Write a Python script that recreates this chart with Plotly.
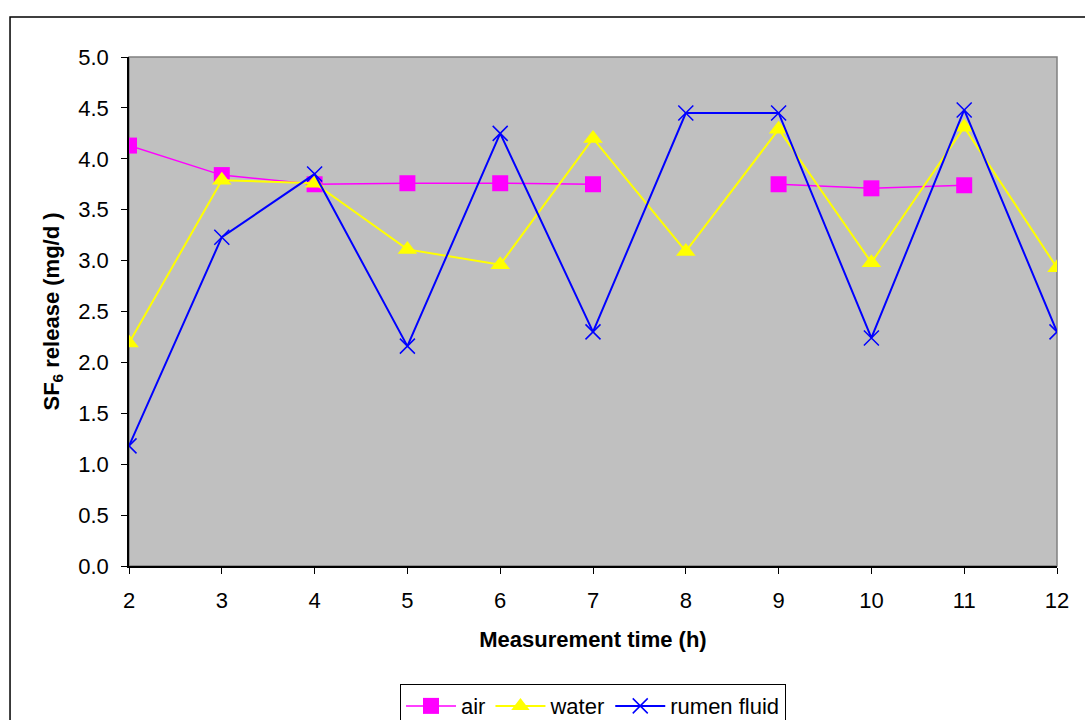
import plotly.graph_objects as go

hours = [2, 3, 4, 5, 6, 7, 8, 9, 10, 11, 12]
air = [4.13, 3.84, 3.75, 3.76, 3.76, 3.75, None, 3.75, 3.71, 3.74, None]
water = [2.19, 3.79, 3.76, 3.11, 2.96, 4.20, 3.09, 4.29, 2.98, 4.31, 2.93]
rumen = [1.18, 3.23, 3.85, 2.16, 4.25, 2.30, 4.45, 4.45, 2.24, 4.48, 2.30]
y_ticks = [0, 0.5, 1, 1.5, 2, 2.5, 3, 3.5, 4, 4.5, 5]

fig = go.Figure()
fig.add_trace(go.Scatter(x=hours, y=air, name="air", mode="lines+markers",
                         connectgaps=False,
                         line=dict(color="#FF00FF", width=1.5),
                         marker=dict(symbol="square", size=16, color="#FF00FF")))
fig.add_trace(go.Scatter(x=hours, y=water, name="water", mode="lines+markers",
                         line=dict(color="#FFFF00", width=2),
                         marker=dict(symbol="triangle-up", size=17, color="#FFFF00")))
fig.add_trace(go.Scatter(x=hours, y=rumen, name="rumen fluid", mode="lines+markers",
                         line=dict(color="#0000FF", width=2),
                         marker=dict(symbol="x-thin", size=15, color="#0000FF",
                                     line=dict(color="#0000FF", width=1.5))))

font = dict(family="Liberation Sans, Arial", size=22, color="black")
tfont = dict(family="Liberation Sans, Arial", size=22, color="black")

fig.update_layout(
    width=1085, height=720,
    margin=dict(l=129, r=28, t=57, b=154, autoexpand=False),
    paper_bgcolor="white",
    plot_bgcolor="#C0C0C0",
    font=font,
    showlegend=True,
    legend=dict(orientation="h", x=0.5, xanchor="center", y=-0.232, yanchor="top",
                bordercolor="black", borderwidth=1, bgcolor="white",
                font=font, itemwidth=50),
    xaxis=dict(range=[2, 12], tickvals=hours, ticktext=[str(h) for h in hours],
               showgrid=False, zeroline=False, showline=True, linecolor="black",
               linewidth=1.5, ticks="outside", ticklen=6, tickcolor="black",
               tickfont=font, ticklabelstandoff=8, automargin=False,
               title=dict(text="<b>Measurement time (h)</b>", font=tfont, standoff=19)),
    yaxis=dict(range=[0, 5], tickvals=y_ticks, ticktext=[f"{v:.1f}" for v in y_ticks],
               showgrid=False, zeroline=False, showline=True, linecolor="black",
               linewidth=1.5, ticks="outside", ticklen=6, tickcolor="black",
               tickfont=font, ticklabelstandoff=8, automargin=False,
               title=dict(text="<b>SF<sub>6</sub> release (mg/d )</b>", font=tfont, standoff=13)),
    shapes=[
        dict(type="rect", xref="paper", yref="paper", x0=0, x1=1, y0=0, y1=1,
             line=dict(color="#808080", width=1.5), layer="below"),
        dict(type="rect", xref="paper", yref="paper", x0=-0.1282, x1=1.1, y0=-0.4, y1=1.0786,
             line=dict(color="black", width=1.5), layer="below"),
    ],
)

fig.write_html("out.html")
